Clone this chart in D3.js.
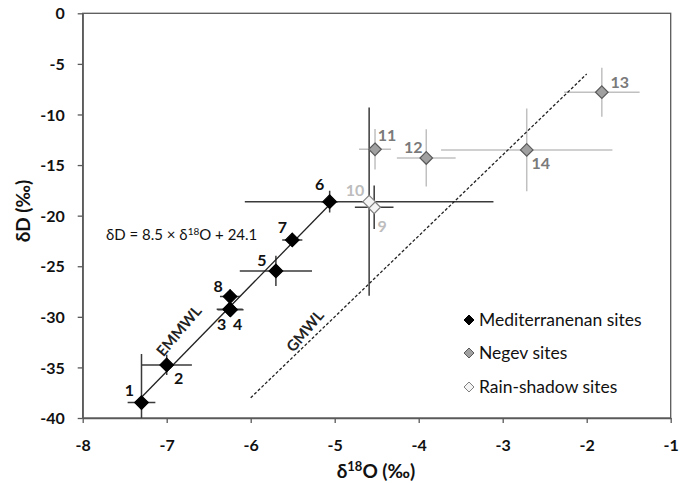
<!DOCTYPE html>
<html><head><meta charset="utf-8">
<script src="https://cdn.jsdelivr.net/npm/d3@7"></script>
<style>
body{margin:0;background:#fff;}
svg{font-family:Lato,"Open Sans","DejaVu Sans",sans-serif;}
</style></head>
<body><svg id="chart" width="692" height="483"></svg>
<script>
// ---- data ----
const siteLabels = ["1","2","3","4","5","6","7","8","9","10","11","12","13","14"];
const siteGroups = ["Med","Med","Med","Med","Med","Med","Med","Med","Rain","Rain","Negev","Negev","Negev","Negev"];
const d18O = [-7.30,-7.00,-6.25,-6.24,-5.70,-5.06,-5.505,-6.246,-4.53,-4.59,-4.52,-3.91,-1.82,-2.714];
const dD   = [-38.48,-34.75,-29.25,-29.3,-25.46,-18.62,-22.4,-28.0,-19.17,-18.62,-13.44,-14.3,-7.8,-13.5];
const errO = [0.165,0.30,0.155,0.155,0.43,0.10,0.12,0.12,0.23,1.48,0.19,0.35,0.45,1.02];
const errD = [4.8,1.0,0.6,0.6,1.5,1.07,0.66,0.7,2.14,9.3,2.0,2.83,2.42,4.1];
const xTicks = [-8,-7,-6,-5,-4,-3,-2,-1];
const yTicks = [0,-5,-10,-15,-20,-25,-30,-35,-40];
const legendNames = ["Mediterranenan sites","Negev sites","Rain-shadow sites"];
const legendGroups = ["Med","Negev","Rain"];
const emmwl = {slope:8.5, intercept:24.1, from:-7.3, to:-5.05};
const gmwl = {slope:8, intercept:10, from:-6, to:-2};

// ---- layout / style ----
const L=82.7, R=670.7, T=13.3, B=418;
const style = {
  Med:{fill:"#000",stroke:"#000",bar:"#3a3a3a",label:"#111"},
  Negev:{fill:"#a0a0a0",stroke:"#5a5a5a",bar:"#c0c0c0",label:"#7a7a7a"},
  Rain:{fill:"#f4f4f4",stroke:"#808080",bar:"#3a3a3a",label:"#bdbdbd"}
};
// label offsets (dx, dy) relative to markers
const labelOffsets = [[-12,-12],[12,14],[-8,15],[7,15],[-14,-10],[-10,-17],[-10,-13],[-12,-10],[8,19],[-14,-11],[12,-14],[-13,-11],[18,-10],[14,14]];

const svg = d3.select("#chart");
const x = d3.scaleLinear().domain([-8,-1]).range([L,R]);
const y = d3.scaleLinear().domain([-40,0]).range([B,T]);

svg.append("defs").append("clipPath").attr("id","clip")
  .append("rect").attr("x",L).attr("y",T).attr("width",R-L).attr("height",B-T);

const axisColor="#595959";
svg.append("rect").attr("x",L).attr("y",T).attr("width",R-L).attr("height",B-T)
  .attr("fill","none").attr("stroke",axisColor).attr("stroke-width",1.3);

const xa = svg.append("g").attr("transform",`translate(0,${B})`)
  .call(d3.axisBottom(x).tickValues(xTicks).tickSize(5).tickSizeOuter(0).tickFormat(d=>String(d)));
const ya = svg.append("g").attr("transform",`translate(${L},0)`)
  .call(d3.axisLeft(y).tickValues(yTicks).tickSize(5).tickSizeOuter(0).tickFormat(d=>String(d)));
[xa,ya].forEach(a=>{
  a.select(".domain").attr("stroke",axisColor).attr("stroke-width",1.3);
  a.selectAll(".tick line").attr("stroke",axisColor).attr("stroke-width",1.3);
  a.selectAll(".tick text").attr("fill","#111").attr("font-size",16).attr("font-weight","bold")
   .attr("font-family",'Lato,"Open Sans",sans-serif');
});
xa.selectAll(".tick text").attr("y",27).attr("dy","0.35em");
ya.selectAll(".tick text").attr("x",-18).attr("dy","0.35em");

const plot = svg.append("g").attr("clip-path","url(#clip)");
const idx = d3.range(d18O.length);

// error bars
idx.forEach(i=>{
  const c = style[siteGroups[i]].bar;
  plot.append("line").attr("x1",x(d18O[i]-errO[i])).attr("x2",x(d18O[i]+errO[i]))
    .attr("y1",y(dD[i])).attr("y2",y(dD[i])).attr("stroke",c).attr("stroke-width",1.5);
  plot.append("line").attr("x1",x(d18O[i])).attr("x2",x(d18O[i]))
    .attr("y1",y(dD[i]-errD[i])).attr("y2",y(dD[i]+errD[i])).attr("stroke",c).attr("stroke-width",1.5);
});

// meteoric water lines
plot.append("line").attr("x1",x(emmwl.from)).attr("y1",y(emmwl.slope*emmwl.from+emmwl.intercept))
  .attr("x2",x(emmwl.to)).attr("y2",y(emmwl.slope*emmwl.to+emmwl.intercept))
  .attr("stroke","#222").attr("stroke-width",1.3);
plot.append("line").attr("x1",x(gmwl.from)).attr("y1",y(gmwl.slope*gmwl.from+gmwl.intercept))
  .attr("x2",x(gmwl.to)).attr("y2",y(gmwl.slope*gmwl.to+gmwl.intercept))
  .attr("stroke","#222").attr("stroke-width",1.3).attr("stroke-dasharray","3,2");

// markers
const diamond = (cx,cy,r)=>`M${cx},${cy-r}L${cx+r},${cy}L${cx},${cy+r}L${cx-r},${cy}Z`;
idx.forEach(i=>{
  const s = style[siteGroups[i]];
  const r = siteGroups[i]==="Med"?6.8:6.3;
  plot.append("path").attr("d",diamond(x(d18O[i]),y(dD[i]),r))
    .attr("fill",s.fill).attr("stroke",s.stroke).attr("stroke-width",1.2);
});

// point labels
idx.forEach(i=>{
  const s = style[siteGroups[i]];
  svg.append("text").attr("x",x(d18O[i])+labelOffsets[i][0]).attr("y",y(dD[i])+labelOffsets[i][1])
    .attr("text-anchor","middle").attr("dy","0.35em")
    .attr("font-size",16).attr("font-weight","bold").attr("fill",s.label).text(siteLabels[i]);
});

// line labels
svg.append("text").attr("transform","translate(179,331) rotate(-50)")
  .attr("text-anchor","middle").attr("dy","0.35em").attr("font-size",15).attr("font-weight","bold")
  .attr("fill","#222").text("EMMWL");
svg.append("text").attr("transform","translate(305,331) rotate(-50)")
  .attr("text-anchor","middle").attr("dy","0.35em").attr("font-size",15).attr("font-weight","bold")
  .attr("fill","#222").text("GMWL");

// equation
const eq = svg.append("text").attr("x",106).attr("y",240).attr("font-size",15).attr("fill","#111");
eq.append("tspan").text("δD = 8.5 × δ");
eq.append("tspan").attr("font-size",10).attr("dy",-5).text("18");
eq.append("tspan").attr("dy",5).text("O  + 24.1");

// legend
const legY = [320,353,387];
legendNames.forEach((n,k)=>{
  const s = style[legendGroups[k]];
  svg.append("path").attr("d",diamond(469,legY[k],5))
    .attr("fill",s.fill).attr("stroke",s.stroke).attr("stroke-width",1);
  svg.append("text").attr("x",479).attr("y",legY[k]).attr("dy","0.35em")
    .attr("font-size",17.5).attr("fill","#111").text(n);
});

// axis titles
const xt = svg.append("text").attr("x",376).attr("y",471).attr("dy","0.35em").attr("text-anchor","middle")
  .attr("font-size",19).attr("font-weight","bold").attr("fill","#111");
xt.append("tspan").text("δ");
xt.append("tspan").attr("font-size",13).attr("dy",-7).text("18");
xt.append("tspan").attr("dy",7).text("O (‰)");
svg.append("text").attr("transform","translate(23,211) rotate(-90)").attr("dy","0.35em")
  .attr("text-anchor","middle").attr("font-size",19).attr("font-weight","bold").attr("fill","#111")
  .text("δD (‰)");
</script></body></html>
